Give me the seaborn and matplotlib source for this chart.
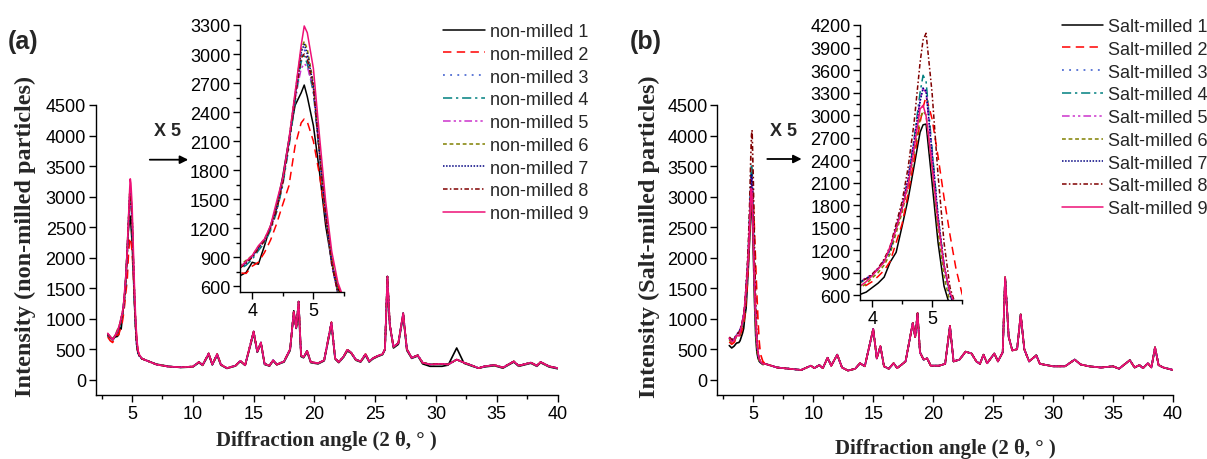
import matplotlib
matplotlib.use("Agg")
import matplotlib.pyplot as plt
from matplotlib.ticker import MultipleLocator
import pandas as pd
import seaborn as sns

# --- data ---------------------------------------------------------------
# angles of the main (001) peak region, shared by every pattern
PEAK_X = [3.0, 3.2, 3.4, 3.6, 3.8, 3.9, 4.0, 4.1, 4.2, 4.3, 4.4, 4.5, 4.6,
          4.7, 4.8, 4.85, 4.9, 5.0, 5.1, 5.2, 5.3, 5.4, 5.5, 5.6, 5.8]

# (a) non-milled particles, intensities on PEAK_X
A1_PEAK = [720, 690, 650, 700, 710, 745, 850, 830, 1020, 1230, 1430, 1740, 2120, 2470, 2600, 2680, 2560, 2260, 1780, 1230, 850, 580, 450, 400, 350]
A2_PEAK = [700, 640, 610, 680, 740, 735, 810, 850, 950, 1080, 1250, 1450, 1640, 2050, 2290, 2330, 2300, 2100, 1750, 1300, 900, 610, 460, 400, 350]
A3_PEAK = [740, 700, 660, 720, 790, 830, 900, 990, 1070, 1200, 1400, 1680, 2080, 2550, 2980, 3050, 2950, 2620, 1930, 1330, 820, 520, 420, 390, 345]
A4_PEAK = [730, 690, 650, 710, 780, 820, 880, 970, 1050, 1180, 1370, 1650, 2040, 2500, 2920, 2980, 2900, 2600, 1950, 1340, 830, 530, 430, 390, 345]
A5_PEAK = [745, 700, 665, 720, 800, 840, 910, 1000, 1080, 1210, 1410, 1690, 2090, 2540, 2850, 2900, 2870, 2640, 1960, 1350, 830, 530, 430, 390, 345]
A6_PEAK = [750, 705, 670, 725, 820, 870, 920, 1010, 1090, 1220, 1420, 1700, 2110, 2590, 3050, 3130, 3050, 2700, 2000, 1380, 860, 550, 440, 395, 345]
A7_PEAK = [745, 700, 665, 720, 800, 850, 910, 1000, 1080, 1210, 1410, 1700, 2100, 2580, 3020, 3100, 3000, 2680, 1980, 1360, 840, 540, 430, 390, 345]
A8_PEAK = [740, 700, 660, 715, 790, 840, 900, 990, 1070, 1200, 1390, 1670, 2070, 2540, 2960, 3000, 2950, 2650, 1970, 1350, 830, 530, 430, 390, 345]
A9_PEAK = [760, 710, 650, 720, 800, 860, 920, 1020, 1090, 1230, 1480, 1720, 2120, 2600, 3090, 3290, 3220, 2850, 2150, 1480, 960, 640, 470, 410, 350]

# (b) salt-milled particles, intensities on PEAK_X
B1_PEAK = [560, 520, 550, 600, 610, 640, 700, 760, 840, 1040, 1170, 1520, 1880, 2320, 2770, 2870, 2880, 2100, 1300, 720, 450, 350, 300, 280, 250]
B2_PEAK = [620, 580, 610, 680, 700, 730, 780, 850, 930, 1050, 1300, 1550, 1950, 2400, 2900, 3100, 3250, 2950, 2450, 1900, 1400, 950, 620, 420, 300]
B3_PEAK = [680, 640, 660, 730, 780, 820, 870, 950, 1060, 1200, 1500, 1780, 2150, 2650, 3200, 3380, 3330, 2500, 1650, 1000, 600, 420, 330, 290, 260]
B4_PEAK = [670, 630, 650, 720, 770, 800, 860, 940, 1050, 1190, 1490, 1770, 2150, 2680, 3300, 3530, 3450, 2550, 1650, 1000, 600, 420, 330, 290, 260]
B5_PEAK = [690, 650, 670, 740, 790, 830, 880, 960, 1070, 1220, 1510, 1790, 2160, 2650, 3200, 3350, 3300, 2480, 1640, 1000, 600, 420, 330, 290, 260]
B6_PEAK = [650, 610, 630, 700, 700, 750, 830, 900, 1000, 1150, 1430, 1700, 2050, 2500, 2950, 3050, 3000, 2300, 1450, 850, 500, 380, 310, 280, 250]
B7_PEAK = [680, 640, 660, 730, 780, 820, 870, 950, 1060, 1200, 1500, 1780, 2150, 2650, 3180, 3360, 3320, 2500, 1650, 1000, 600, 420, 330, 290, 260]
B8_PEAK = [700, 660, 670, 740, 770, 820, 880, 960, 1080, 1250, 1550, 1850, 2300, 2900, 3700, 4000, 4090, 3300, 2200, 1300, 700, 450, 340, 300, 260]
B9_PEAK = [680, 620, 640, 720, 720, 780, 860, 950, 1040, 1250, 1480, 1750, 2080, 2550, 3080, 3130, 2990, 2320, 1570, 990, 640, 440, 340, 300, 260]

# rest of the pattern (6-40 deg)
TAIL_A_X = [6.0, 7.0, 8.0, 9.0, 10.0, 10.5, 10.8, 11.3, 11.6, 12.0, 12.3, 12.8, 13.5, 13.9, 14.3,
            15.0, 15.3, 15.6, 15.9, 16.3, 16.6, 16.9, 17.5, 18.0, 18.3, 18.5, 18.7, 18.9, 19.1, 19.4,
            19.7, 20.3, 20.8, 21.4, 21.7, 22.0, 22.4, 22.7, 23.0, 23.4, 23.8, 24.2, 24.5, 24.8, 25.2,
            25.6, 25.8, 26.0, 26.2, 26.5, 26.9, 27.3, 27.6, 28.0, 28.5, 28.9, 29.5, 30.5, 31.0, 31.7,
            32.3, 33.0, 33.5, 34.0, 34.8, 35.5, 36.4, 36.8, 37.8, 38.3, 38.6, 39.3, 40.0]
TAIL_A_Y = [330, 250, 215, 205, 215, 290, 240, 430, 250, 420, 250, 190, 230, 310, 240,
            790, 460, 610, 260, 230, 320, 250, 300, 500, 1110, 850, 1280, 400, 370, 470,
            290, 270, 320, 940, 350, 290, 380, 490, 450, 330, 300, 420, 300, 350, 390,
            420, 500, 1690, 900, 540, 600, 1090, 500, 360, 400, 280, 250, 260, 250, 330,
            280, 230, 190, 220, 240, 200, 300, 230, 280, 230, 290, 220, 190]
TAIL_A1_Y = [330, 255, 220, 200, 210, 280, 235, 410, 245, 400, 240, 185, 225, 300, 235,
             760, 450, 590, 250, 225, 310, 245, 290, 480, 1130, 840, 1150, 380, 360, 450,
             280, 260, 310, 900, 340, 280, 370, 470, 440, 320, 290, 400, 290, 340, 380,
             410, 490, 1550, 880, 520, 580, 1050, 480, 350, 390, 260, 220, 220, 240, 520,
             270, 220, 190, 210, 230, 190, 290, 220, 270, 220, 280, 210, 180]

TAIL_B_X = [6.0, 7.0, 8.0, 9.0, 9.8, 10.1, 10.5, 10.8, 11.2, 11.5, 12.0, 12.4, 12.9, 13.5, 13.9,
            14.3, 15.0, 15.3, 15.6, 15.9, 16.3, 16.7, 17.0, 17.7, 18.3, 18.5, 18.7, 18.9, 19.2, 19.5,
            19.8, 20.5, 21.0, 21.4, 21.7, 22.2, 22.7, 23.2, 23.6, 23.9, 24.2, 24.5, 25.1, 25.4, 25.8,
            26.0, 26.3, 26.6, 27.0, 27.3, 27.6, 28.0, 28.6, 28.9, 30.0, 31.0, 31.8, 32.3, 33.0, 34.0,
            35.0, 35.5, 36.4, 36.8, 37.2, 37.5, 37.9, 38.2, 38.5, 38.8, 39.2, 39.6, 40.0]
TAIL_B_Y = [260, 200, 180, 160, 230, 190, 240, 190, 360, 230, 410, 200, 150, 180, 270,
            220, 830, 350, 550, 220, 180, 270, 190, 300, 930, 700, 1090, 450, 330, 350,
            230, 230, 260, 880, 300, 330, 460, 430, 300, 260, 410, 270, 430, 300, 450,
            1680, 700, 480, 500, 1070, 500, 300, 400, 260, 220, 220, 330, 250, 220, 200,
            220, 180, 320, 200, 240, 190, 270, 200, 530, 240, 200, 180, 160]

LABELS_A = ["non-milled 1", "non-milled 2", "non-milled 3", "non-milled 4", "non-milled 5",
            "non-milled 6", "non-milled 7", "non-milled 8", "non-milled 9"]
LABELS_B = ["Salt-milled 1", "Salt-milled 2", "Salt-milled 3", "Salt-milled 4", "Salt-milled 5",
            "Salt-milled 6", "Salt-milled 7", "Salt-milled 8", "Salt-milled 9"]

# Origin-like line styles
COLORS = ["#000000", "#FF0000", "#3355CC", "#008080", "#CC33CC",
          "#808000", "#000080", "#800000", "#EE1177"]
DASHES = ["", (5.5, 3.5), (1.2, 3.5), (6, 2.5, 1.5, 2.5), (5, 2, 1.5, 2, 1.5, 2),
          (2.5, 1.8), (1, 1), (3, 1.5, 1, 1.5), ""]


def build_frame(labels, peaks, tails):
    rows = []
    for lab, pk, (tx, ty) in zip(labels, peaks, tails):
        for x, y in zip(PEAK_X + tx, pk + ty):
            rows.append((lab, x, y))
    return pd.DataFrame(rows, columns=["sample", "angle", "intensity"])


df_a = build_frame(LABELS_A,
                   [A1_PEAK, A2_PEAK, A3_PEAK, A4_PEAK, A5_PEAK, A6_PEAK, A7_PEAK, A8_PEAK, A9_PEAK],
                   [(TAIL_A_X, TAIL_A1_Y)] + [(TAIL_A_X, TAIL_A_Y)] * 8)
df_b = build_frame(LABELS_B,
                   [B1_PEAK, B2_PEAK, B3_PEAK, B4_PEAK, B5_PEAK, B6_PEAK, B7_PEAK, B8_PEAK, B9_PEAK],
                   [(TAIL_B_X, TAIL_B_Y)] * 9)

sns.set_theme(style="ticks")
plt.rcParams["font.family"] = ["Liberation Sans", "DejaVu Sans"]
plt.rcParams["axes.edgecolor"] = "black"
plt.rcParams["xtick.color"] = "black"
plt.rcParams["ytick.color"] = "black"

W, H = 1207, 460
fig = plt.figure(figsize=(W / 100, H / 100), dpi=100)


def px_axes(x0, x1, y0, y1):
    # pixel box (left, right, top, bottom) -> figure axes
    ax = fig.add_axes([x0 / W, 1 - y1 / H, (x1 - x0) / W, (y1 - y0) / H])
    ax.patch.set_alpha(0)
    return ax


def draw_lines(ax, df, labels, lw):
    sns.lineplot(data=df, x="angle", y="intensity", hue="sample", style="sample",
                 hue_order=labels, style_order=labels,
                 palette=dict(zip(labels, COLORS)), dashes=dict(zip(labels, DASHES)),
                 estimator=None, sort=False, lw=lw, legend=False, ax=ax)
    sns.despine(ax=ax)
    ax.set_xlabel("")
    ax.set_ylabel("")
    ax.tick_params(which="major", direction="out", length=5, width=1, labelsize=13, pad=2)
    ax.tick_params(which="minor", direction="out", length=3, width=1)
    for s in ["left", "bottom"]:
        ax.spines[s].set_linewidth(1)


def style_main(ax, ylabel, lab_x, xlab_y):
    ax.set_xlim(2, 40)
    ax.set_ylim(-250, 4500)
    ax.xaxis.set_major_locator(MultipleLocator(5))
    ax.xaxis.set_minor_locator(MultipleLocator(2.5))
    ax.yaxis.set_major_locator(MultipleLocator(500))
    ax.set_xlabel("Diffraction angle (2 θ, ° )", fontfamily="Liberation Serif",
                  fontweight="bold", fontsize=15)
    ax.xaxis.set_label_coords(0.5, xlab_y)
    ax.set_ylabel(ylabel, fontfamily="Liberation Serif", fontweight="bold", fontsize=17.5)
    ax.yaxis.set_label_coords(lab_x, 0.55)


def style_inset(ax, ylim):
    ax.set_xlim(3.8, 5.5)
    ax.set_ylim(*ylim)
    ax.xaxis.set_major_locator(MultipleLocator(1))
    ax.xaxis.set_minor_locator(MultipleLocator(0.5))
    ax.yaxis.set_major_locator(MultipleLocator(300))
    ax.yaxis.set_minor_locator(MultipleLocator(150))


# panel (a)
ax_a = px_axes(95.6, 557.6, 106, 396)
draw_lines(ax_a, df_a, LABELS_A, 1.2)
style_main(ax_a, "Intensity (non-milled particles)", -0.129, -0.12)
in_a = px_axes(240, 344, 26, 293.3)
draw_lines(in_a, df_a, LABELS_A, 1.1)
style_inset(in_a, (540, 3300))

# panel (b)
ax_b = px_axes(717.3, 1173, 106, 396)
draw_lines(ax_b, df_b, LABELS_B, 1.2)
style_main(ax_b, "Intensity (Salt-milled particles)", -0.126, -0.148)
in_b = px_axes(860.2, 962, 26, 301)
draw_lines(in_b, df_b, LABELS_B, 1.1)
style_inset(in_b, (535, 4200))

for ax, labels, x0, top in [(in_a, LABELS_A, 443, 24), (in_b, LABELS_B, 1061.5, 19)]:
    fig.legend(handles=ax.lines[:9], labels=labels, loc="upper left",
               bbox_to_anchor=(x0 / W, 1 - top / H), bbox_transform=fig.transFigure,
               frameon=False, fontsize=13, handlelength=2.3, handletextpad=0.3,
               labelspacing=0.32, borderpad=0, borderaxespad=0)

# panel letters, "X 5" and arrows
for txt, x, y in [("(a)", 8, 41.5), ("(b)", 630, 41.5)]:
    fig.text(x / W, 1 - y / H, txt, fontsize=18, fontweight="bold", va="center", ha="left")
for x, y in [(167.5, 131.5), (783, 131)]:
    fig.text(x / W, 1 - y / H, "X 5", fontsize=13, fontweight="bold", va="center", ha="center")
for ax, x0, x1, y in [(ax_a, 147, 191, 160.7), (ax_b, 764.5, 804.4, 160)]:
    ax.annotate("", xy=(x1 / W, 1 - y / H), xytext=(x0 / W, 1 - y / H),
                xycoords="figure fraction", textcoords="figure fraction",
                arrowprops=dict(arrowstyle="-|>", color="black", lw=1.3, mutation_scale=12))

fig.savefig("out.png", dpi=100, facecolor="white")
